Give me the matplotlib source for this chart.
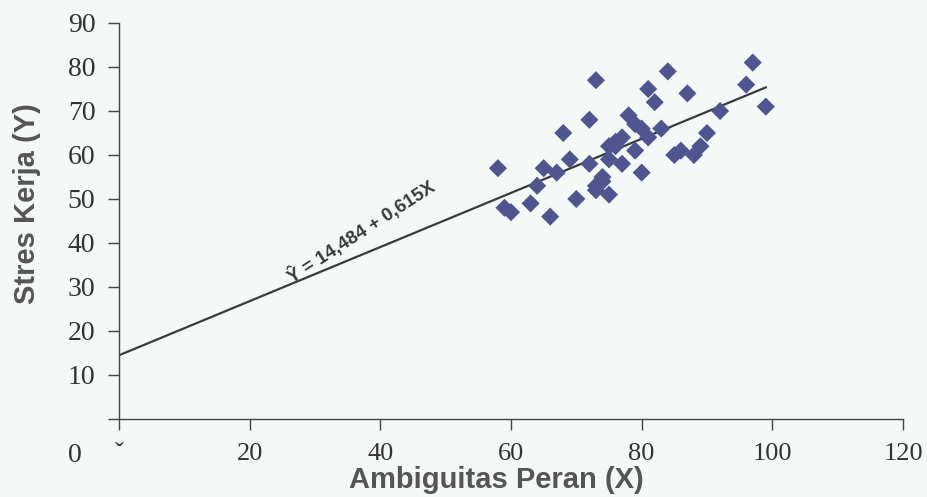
import matplotlib
matplotlib.use("Agg")
import matplotlib.pyplot as plt
import numpy as np

# Data
x_vals = [58, 59, 60, 63, 64, 65, 66, 67, 68, 69, 70, 72, 72, 73, 73, 73, 74, 74,
          75, 75, 75, 76, 76, 77, 77, 78, 79, 79, 80, 80, 81, 81, 82, 83, 84, 85,
          86, 87, 88, 89, 90, 92, 96, 97, 99]
y_vals = [57, 48, 47, 49, 53, 57, 46, 56, 65, 59, 50, 68, 58, 77, 52, 53, 55, 54,
          51, 59, 62, 63, 62, 64, 58, 69, 67, 61, 66, 56, 64, 75, 72, 66, 79, 60,
          61, 74, 60, 62, 65, 70, 76, 81, 71]
intercept = 14.484
slope = 0.615
x_ticks = [0, 20, 40, 60, 80, 100, 120]
x_tick_labels = ["ˇ", "20", "40", "60", "80", "100", "120"]
y_ticks = [0, 10, 20, 30, 40, 50, 60, 70, 80, 90]
y_tick_labels = ["", "10", "20", "30", "40", "50", "60", "70", "80", "90"]
equation = "Ŷ = 14,484 + 0,615X"
x_label = "Ambiguitas Peran (X)"
y_label = "Stres Kerja (Y)"

bg = "#f4f8f6"
fig = plt.figure(figsize=(9.27, 4.97), dpi=100, facecolor=bg)
ax = fig.add_axes([119/927, 1 - 419/497, (903-119)/927, (419-23)/497])
ax.set_facecolor(bg)
ax.set_xlim(0, 120)
ax.set_ylim(0, 90)

ax.scatter(x_vals, y_vals, marker="D", s=85, color="#51558f", edgecolors="none",
           zorder=3, clip_on=False)

lx = np.array([0, 99])
ax.plot(lx, intercept + slope * lx, color="#3a3a3a", lw=1.6, zorder=2)

ax.text(37, 42.5, equation, rotation=33, ha="center", va="center",
        fontsize=13.5, fontweight="bold", family="Liberation Sans", color="#3a3a3a")

for s in ["top", "right"]:
    ax.spines[s].set_visible(False)
for s in ["left", "bottom"]:
    ax.spines[s].set_color("#444444")
    ax.spines[s].set_linewidth(1.0)

ax.set_xticks(x_ticks)
ax.set_xticklabels(x_tick_labels, family="Liberation Serif", fontsize=19, color="#333333")
ax.set_yticks(y_ticks)
ax.set_yticklabels(y_tick_labels, family="Liberation Serif", fontsize=20, color="#333333")
ax.tick_params(axis="both", direction="out", length=8, width=1.0, color="#444444")
ax.tick_params(axis="x", pad=9)
ax.tick_params(axis="y", pad=9)

fig.text(496/927, 1 - 488/497, x_label, family="Liberation Sans", fontweight="bold",
         fontsize=21, color="#555555", ha="center", va="baseline")
fig.text(27/927, 1 - 204/497, y_label, family="Liberation Sans", fontweight="bold",
         fontsize=21, color="#555555", ha="center", va="center", rotation=90)

fig.text(75/927, 1 - 455/497, "0", family="Liberation Serif", fontsize=20,
         color="#333333", ha="center", va="center")

fig.savefig("out.png", dpi=100, facecolor=bg)
